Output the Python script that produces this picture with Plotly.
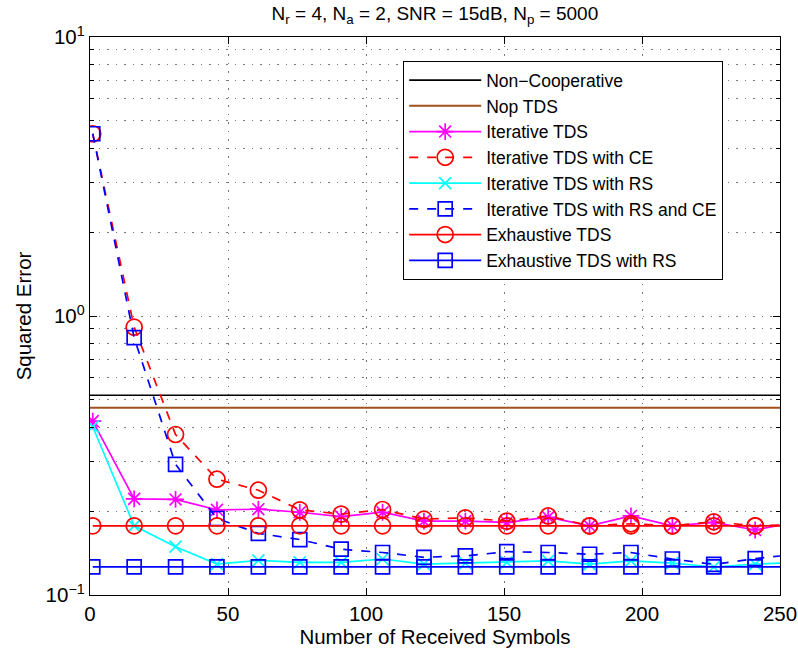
import plotly.graph_objects as go

x_pts = [1, 16, 31, 46, 61, 76, 91, 106, 121, 136, 151, 166, 181, 196, 211, 226, 241, 256]
x_flat = [0, 256]

non_coop = [0.52, 0.52]
nop_tds = [0.469, 0.469]
iter_tds = [0.420, 0.221, 0.220, 0.202, 0.203, 0.198, 0.191, 0.198, 0.184, 0.184, 0.182, 0.190,
            0.177, 0.192, 0.177, 0.182, 0.171, 0.183]
iter_ce = [4.50, 0.912, 0.376, 0.260, 0.2375, 0.202, 0.195, 0.2025, 0.187, 0.189, 0.184, 0.192,
           0.177, 0.180, 0.177, 0.183, 0.177, 0.179]
iter_rs = [0.401, 0.177, 0.149, 0.129, 0.133, 0.131, 0.131, 0.1346, 0.129, 0.130, 0.131, 0.1325,
           0.129, 0.1325, 0.130, 0.126, 0.129, 0.131]
iter_rs_ce = [4.50, 0.836, 0.294, 0.188, 0.1663, 0.158, 0.146, 0.142, 0.1365, 0.138, 0.143, 0.142,
              0.140, 0.142, 0.1346, 0.1287, 0.135, 0.140]
exh_tds = [0.177] * 18
exh_rs = [0.1262] * 18

x_ticks = [0, 50, 100, 150, 200, 250]
y_ticks = [0.1, 1, 10]
y_ticktext = ["10<sup>\u22121</sup>", "10<sup>0</sup>", "10<sup>1</sup>"]

font = "Liberation Sans, Arial, sans-serif"
fig = go.Figure()

lw = 1.7
fig.add_trace(go.Scatter(x=x_flat, y=non_coop, mode="lines", name="Non\u2212Cooperative",
                         line=dict(color="black", width=lw)))
fig.add_trace(go.Scatter(x=x_flat, y=nop_tds, mode="lines", name="Nop TDS",
                         line=dict(color="#a0501e", width=2)))
fig.add_trace(go.Scatter(x=x_pts, y=iter_tds, mode="lines+markers", name="Iterative TDS",
                         line=dict(color="#ff00ff", width=lw),
                         marker=dict(symbol="asterisk-open", size=14, color="#ff00ff",
                                     line=dict(color="#ff00ff", width=lw))))
fig.add_trace(go.Scatter(x=x_pts, y=iter_ce, mode="lines+markers", name="Iterative TDS with CE",
                         line=dict(color="#ff0000", width=lw, dash="dash"),
                         marker=dict(symbol="circle-open", size=16, color="#ff0000",
                                     line=dict(color="#ff0000", width=lw))))
fig.add_trace(go.Scatter(x=x_pts, y=iter_rs, mode="lines+markers", name="Iterative TDS with RS",
                         line=dict(color="#00ffff", width=lw),
                         marker=dict(symbol="x-thin-open", size=12, color="#00ffff",
                                     line=dict(color="#00ffff", width=lw))))
fig.add_trace(go.Scatter(x=x_pts, y=iter_rs_ce, mode="lines+markers", name="Iterative TDS with RS and CE",
                         line=dict(color="#0000ff", width=lw, dash="dash"),
                         marker=dict(symbol="square-open", size=14, color="#0000ff",
                                     line=dict(color="#0000ff", width=lw))))
fig.add_trace(go.Scatter(x=x_pts, y=exh_tds, mode="lines+markers", name="Exhaustive TDS",
                         line=dict(color="#ff0000", width=lw),
                         marker=dict(symbol="circle-open", size=16, color="#ff0000",
                                     line=dict(color="#ff0000", width=lw))))
fig.add_trace(go.Scatter(x=x_pts, y=exh_rs, mode="lines+markers", name="Exhaustive TDS with RS",
                         line=dict(color="#0000ff", width=lw),
                         marker=dict(symbol="square-open", size=14, color="#0000ff",
                                     line=dict(color="#0000ff", width=lw))))

grid_col = "#777777"
gdash = "1.5px,7px"
fig.update_layout(
    width=798, height=653,
    margin=dict(l=90, r=18, t=37, b=58, autoexpand=False),
    paper_bgcolor="white", plot_bgcolor="white",
    font=dict(family=font, size=20, color="black"),
    title=dict(text="N<sub>r</sub> = 4, N<sub>a</sub> = 2, SNR = 15dB, N<sub>p</sub> = 5000",
               x=0.545, xanchor="center", y=0.979, yanchor="middle",
               font=dict(family=font, size=19)),
    legend=dict(x=0.4536, xanchor="left", y=0.957, yanchor="top",
                bgcolor="white", bordercolor="black", borderwidth=1.2,
                font=dict(family=font, size=17.5), tracegroupgap=0, itemwidth=72),
    showlegend=True,
)
fig.update_xaxes(
    range=[0, 250], tickvals=x_ticks, automargin=False,
    showline=True, linecolor="black", linewidth=1.3, mirror="ticks",
    ticks="inside", ticklen=7, tickcolor="black",
    showgrid=True, gridcolor=grid_col, griddash=gdash, gridwidth=1,
    zeroline=False, tickfont=dict(size=20.5),
    title=dict(text="Number of Received Symbols", standoff=2, font=dict(size=20.5)),
)
fig.update_yaxes(
    type="log", range=[-1, 1], tickvals=y_ticks, ticktext=y_ticktext, automargin=False,
    showline=True, linecolor="black", linewidth=1.3, mirror="ticks",
    ticks="inside", ticklen=7, tickcolor="black",
    showgrid=True, gridcolor=grid_col, griddash=gdash, gridwidth=1,
    minor=dict(ticks="inside", ticklen=4, tickcolor="black", showgrid=True,
               gridcolor=grid_col, griddash=gdash, dtick="D1"),
    zeroline=False, tickfont=dict(size=20.5),
    title=dict(text="Squared Error", standoff=8, font=dict(size=20.5)),
)

fig.write_html("out.html", config={"displayModeBar": False},
               post_script="document.body.style.margin='0px';")
